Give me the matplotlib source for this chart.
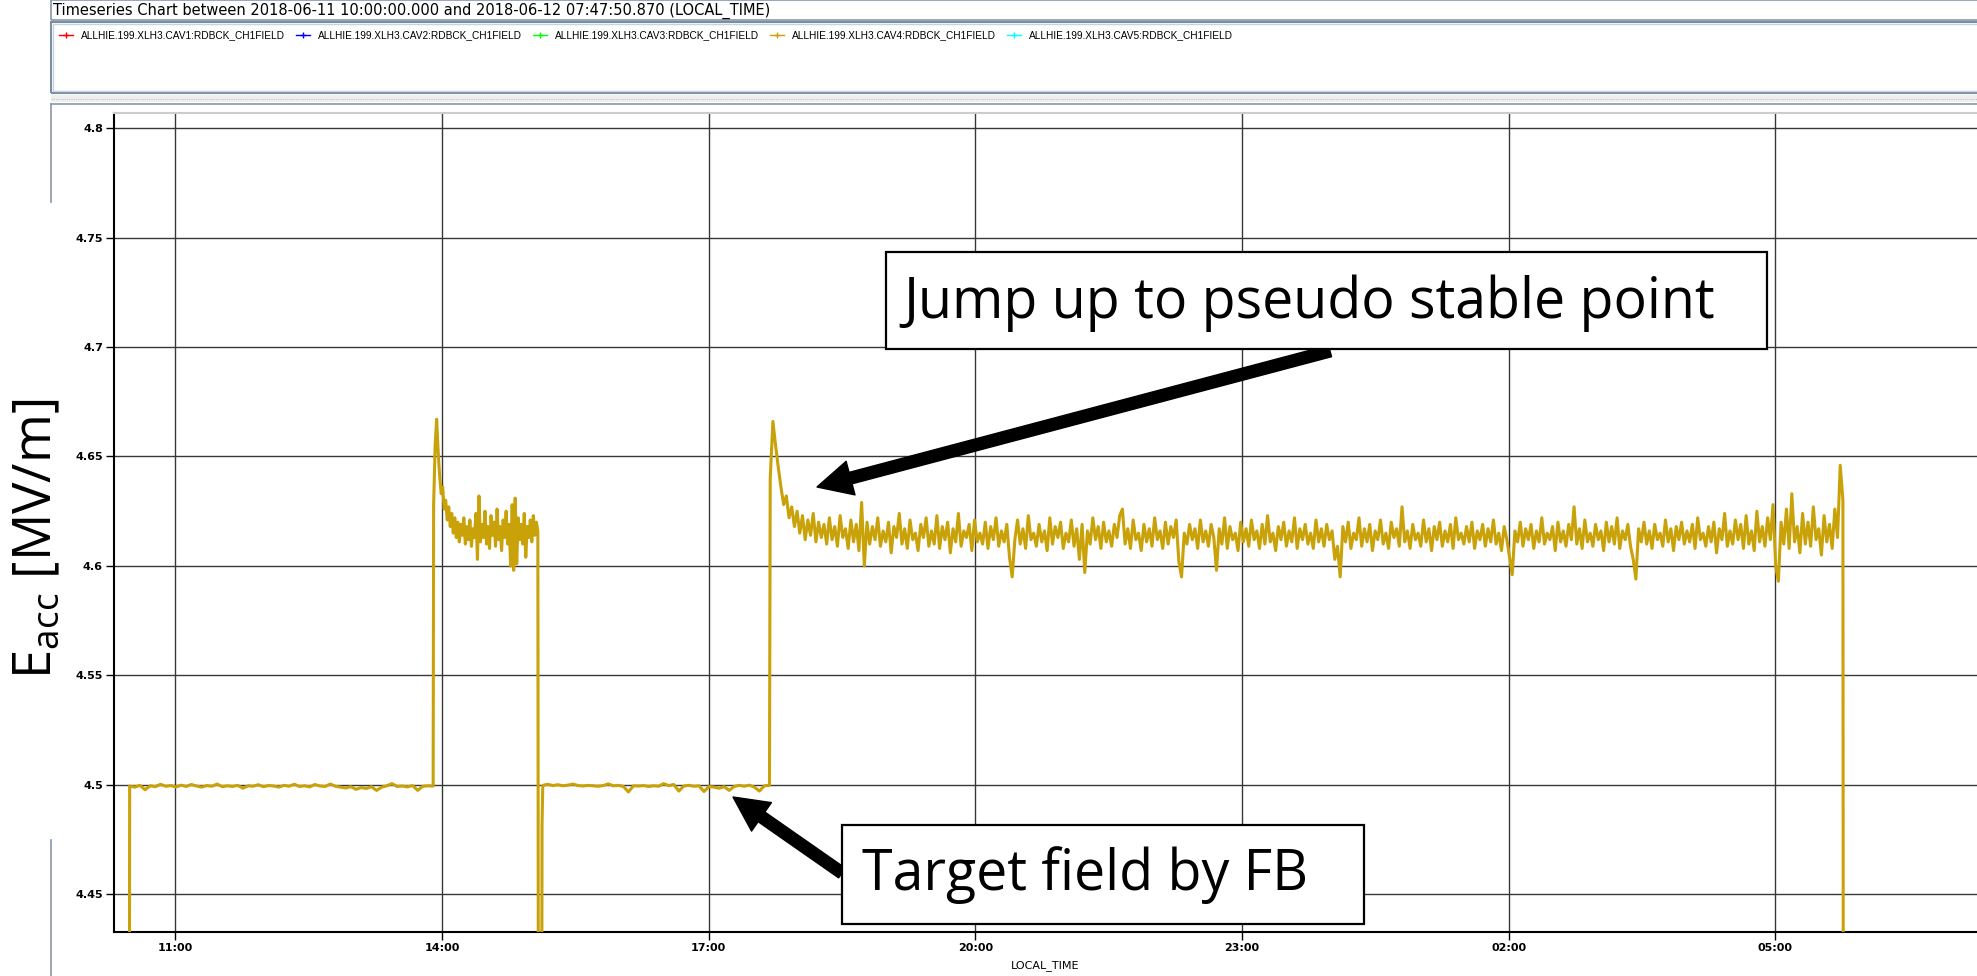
import matplotlib.pyplot as plt
from matplotlib.lines import Line2D
from matplotlib.patches import Rectangle
import pandas as pd

W, H = 1977, 976  # taille de l'image en pixels
GOLD = "#c9a108"

title = "Timeseries Chart between 2018-06-11 10:00:00.000 and 2018-06-12 07:47:50.870 (LOCAL_TIME)"
legend_labels = [
    "ALLHIE.199.XLH3.CAV1:RDBCK_CH1FIELD",
    "ALLHIE.199.XLH3.CAV2:RDBCK_CH1FIELD",
    "ALLHIE.199.XLH3.CAV3:RDBCK_CH1FIELD",
    "ALLHIE.199.XLH3.CAV4:RDBCK_CH1FIELD",
    "ALLHIE.199.XLH3.CAV5:RDBCK_CH1FIELD",
]
legend_colors = ["#ff0000", "#0000ff", "#00ff00", GOLD, "#00ffff"]

x_ticks = ["2018-06-11 11:00", "2018-06-11 14:00", "2018-06-11 17:00", "2018-06-11 20:00",
           "2018-06-11 23:00", "2018-06-12 02:00", "2018-06-12 05:00"]
x_tick_labels = ["11:00", "14:00", "17:00", "20:00", "23:00", "02:00", "05:00"]
y_ticks = [4.45, 4.5, 4.55, 4.6, 4.65, 4.7, 4.75, 4.8]
y_tick_labels = ["4.45", "4.5", "4.55", "4.6", "4.65", "4.7", "4.75", "4.8"]
x_range = ("2018-06-11 10:18:36", "2018-06-12 07:16:00")
y_range = (4.4327, 4.807)

# CAV4, palier 1 a 4.5 MV/m (feedback)
flat1_span = ("2018-06-11 10:29:10", "2018-06-11 13:54:00")
flat1_vals = [
    4.4995, 4.4990, 4.4998, 4.4978, 4.4996, 4.4992, 4.5003, 4.4994, 4.4997, 4.4991,
    4.4999, 4.4993, 4.5002, 4.4995, 4.4990, 4.4997, 4.4994, 4.5004, 4.4992, 4.4996,
    4.4993, 4.4998, 4.4985, 4.4996, 4.4994, 4.5001, 4.4992, 4.4997, 4.4995, 4.4990,
    4.4998, 4.4994, 4.5003, 4.4993, 4.4996, 4.4991, 4.5002, 4.4995, 4.4993, 4.5004,
    4.4994, 4.4990, 4.4986, 4.4992, 4.4980, 4.4988, 4.4984, 4.4992, 4.4975, 4.4990,
    4.4996, 4.5006, 4.4993, 4.4995, 4.4991, 4.4997, 4.4975, 4.4994, 4.4996, 4.4995,
]

# saut 1
high1_span = ("2018-06-11 13:54:20", "2018-06-11 15:04:40")
high1_vals = [
    4.628, 4.655, 4.667, 4.652, 4.641, 4.633, 4.636, 4.626, 4.630, 4.621,
    4.627, 4.618, 4.624, 4.615, 4.622, 4.613, 4.620, 4.611, 4.619, 4.614,
    4.622, 4.610, 4.618, 4.612, 4.621, 4.609, 4.617, 4.613, 4.624, 4.603,
    4.632, 4.611, 4.619, 4.613, 4.625, 4.610, 4.618, 4.608, 4.623, 4.614,
    4.620, 4.609, 4.626, 4.612, 4.618, 4.607, 4.621, 4.613, 4.625, 4.610,
    4.619, 4.600, 4.628, 4.598, 4.631, 4.601, 4.622, 4.612, 4.619, 4.610,
    4.624, 4.604, 4.618, 4.613, 4.621, 4.611, 4.623, 4.614, 4.620, 4.616,
]

# palier 2 a 4.5 MV/m
flat2_span = ("2018-06-11 15:08:00", "2018-06-11 17:41:00")
flat2_vals = [
    4.4998, 4.5003, 4.4997, 4.5001, 4.4996, 4.4999, 4.5004, 4.4997, 4.4995, 4.4998,
    4.4996, 4.4994, 4.4997, 4.5005, 4.4996, 4.4998, 4.4993, 4.4968, 4.4996, 4.4995,
    4.4997, 4.4993, 4.4996, 4.4994, 4.5006, 4.4997, 4.5002, 4.4972, 4.4995, 4.4998,
    4.4994, 4.4996, 4.4970, 4.4993, 4.4990, 4.4985, 4.4992, 4.4975, 4.4993, 4.4998,
    4.4994, 4.4999, 4.4990, 4.4972, 4.4996, 4.4998,
]

# saut 2 -> point pseudo stable
high2_span = ("2018-06-11 17:41:30", "2018-06-12 05:45:30")
high2_vals = [
    4.640, 4.666, 4.655, 4.645, 4.636, 4.628, 4.632, 4.622, 4.627, 4.618, 4.625, 4.615, 4.623, 4.612, 4.621, 4.614, 4.624, 4.611, 4.620, 4.613,
    4.619, 4.610, 4.622, 4.612, 4.618, 4.609, 4.623, 4.613, 4.617, 4.608, 4.621, 4.611, 4.619, 4.607, 4.629, 4.600, 4.620, 4.610, 4.618, 4.612,
    4.622, 4.609, 4.616, 4.611, 4.620, 4.606, 4.618, 4.613, 4.624, 4.610, 4.617, 4.608, 4.621, 4.612, 4.615, 4.607, 4.619, 4.613, 4.622, 4.609,
    4.616, 4.610, 4.623, 4.608, 4.618, 4.612, 4.620, 4.606, 4.617, 4.611, 4.624, 4.609, 4.616, 4.613, 4.619, 4.607, 4.621, 4.611, 4.615, 4.610,
    4.620, 4.608, 4.618, 4.612, 4.622, 4.609, 4.616, 4.611, 4.619, 4.604, 4.595, 4.612, 4.621, 4.610, 4.617, 4.608, 4.623, 4.612, 4.615, 4.609,
    4.619, 4.611, 4.616, 4.607, 4.622, 4.610, 4.618, 4.613, 4.620, 4.608, 4.615, 4.611, 4.621, 4.609, 4.617, 4.603, 4.619, 4.597, 4.616, 4.610,
    4.622, 4.612, 4.618, 4.608, 4.620, 4.611, 4.616, 4.609, 4.619, 4.613, 4.623, 4.626, 4.610, 4.617, 4.608, 4.621, 4.612, 4.615, 4.607, 4.619,
    4.611, 4.617, 4.609, 4.622, 4.612, 4.616, 4.608, 4.620, 4.610, 4.618, 4.613, 4.621, 4.602, 4.595, 4.615, 4.610, 4.619, 4.612, 4.617, 4.608,
    4.621, 4.611, 4.616, 4.609, 4.619, 4.613, 4.598, 4.617, 4.610, 4.622, 4.608, 4.618, 4.612, 4.615, 4.607, 4.620, 4.611, 4.617, 4.609, 4.621,
    4.612, 4.616, 4.608, 4.619, 4.610, 4.623, 4.611, 4.615, 4.607, 4.618, 4.612, 4.620, 4.609, 4.616, 4.611, 4.622, 4.608, 4.617, 4.612, 4.619,
    4.610, 4.615, 4.608, 4.621, 4.611, 4.617, 4.609, 4.619, 4.612, 4.616, 4.603, 4.609, 4.595, 4.618, 4.611, 4.620, 4.608, 4.615, 4.612, 4.622,
    4.609, 4.617, 4.611, 4.619, 4.607, 4.616, 4.612, 4.621, 4.610, 4.615, 4.608, 4.620, 4.613, 4.617, 4.609, 4.627, 4.611, 4.616, 4.608, 4.619,
    4.612, 4.615, 4.609, 4.621, 4.611, 4.617, 4.607, 4.618, 4.612, 4.620, 4.609, 4.616, 4.611, 4.619, 4.608, 4.622, 4.612, 4.615, 4.610, 4.618,
    4.611, 4.620, 4.608, 4.616, 4.612, 4.619, 4.609, 4.617, 4.611, 4.621, 4.610, 4.615, 4.607, 4.618, 4.612, 4.604, 4.596, 4.616, 4.611, 4.620,
    4.609, 4.617, 4.612, 4.619, 4.608, 4.616, 4.611, 4.622, 4.610, 4.615, 4.612, 4.618, 4.607, 4.620, 4.611, 4.616, 4.609, 4.619, 4.612, 4.627,
    4.610, 4.617, 4.608, 4.621, 4.611, 4.615, 4.609, 4.619, 4.612, 4.616, 4.607, 4.620, 4.611, 4.618, 4.610, 4.622, 4.608, 4.616, 4.612, 4.619,
    4.609, 4.603, 4.594, 4.617, 4.611, 4.620, 4.610, 4.616, 4.608, 4.619, 4.612, 4.615, 4.609, 4.621, 4.611, 4.617, 4.607, 4.618, 4.612, 4.620,
    4.610, 4.616, 4.611, 4.619, 4.608, 4.622, 4.612, 4.615, 4.609, 4.618, 4.611, 4.620, 4.606, 4.617, 4.612, 4.624, 4.609, 4.616, 4.610, 4.621,
    4.612, 4.619, 4.608, 4.623, 4.610, 4.616, 4.607, 4.625, 4.611, 4.618, 4.609, 4.622, 4.612, 4.628, 4.600, 4.593, 4.620, 4.610, 4.626, 4.608,
    4.633, 4.611, 4.618, 4.606, 4.624, 4.610, 4.620, 4.609, 4.627, 4.612, 4.617, 4.605, 4.623, 4.611, 4.619, 4.608, 4.626, 4.613, 4.646, 4.630,
]

# lectures isolees (cavite coupee, hors echelle)
trip_times = ["2018-06-11 10:29:00", "2018-06-11 15:05:00", "2018-06-11 15:07:20",
              "2018-06-11 15:07:30", "2018-06-12 05:45:45"]
trip_vals = [4.40, 4.40, 4.40, 4.482, 4.40]

parts = []
for span, vals in [(flat1_span, flat1_vals), (high1_span, high1_vals),
                   (flat2_span, flat2_vals), (high2_span, high2_vals)]:
    parts.append(pd.Series(vals, index=pd.date_range(span[0], span[1], periods=len(vals))))
parts.append(pd.Series(trip_vals, index=pd.to_datetime(trip_times)))
cav4 = pd.concat(parts).sort_index()


# pixel (depuis le haut a gauche) -> fraction de la figure
def fx(x):
    return x / W


def fy(y):
    return 1 - y / H


fig = plt.figure(figsize=(W / 100, H / 100), dpi=100)
ax = fig.add_axes([fx(114), fy(932.3), 1 - fx(114), (932.3 - 112.7) / H])

ax.plot(cav4.index, cav4.values, color=GOLD, lw=2.2, zorder=3)

ax.set_xlim(pd.Timestamp(x_range[0]), pd.Timestamp(x_range[1]))
ax.set_ylim(*y_range)
ax.set_xticks(pd.to_datetime(x_ticks))
ax.set_xticklabels(x_tick_labels, fontweight="bold", fontsize=8)
ax.set_yticks(y_ticks)
ax.set_yticklabels(y_tick_labels, fontweight="bold", fontsize=8)
ax.tick_params(direction="out", length=6, width=1, pad=2)
ax.grid(True, color="#383838", lw=1.0)
ax.set_axisbelow(True)
for s in ["left", "bottom"]:
    ax.spines[s].set_linewidth(1.5)
ax.spines["top"].set_color("#cccccc")
ax.spines["top"].set_linewidth(1.5)
ax.spines["right"].set_visible(False)
ax.set_xlabel("LOCAL_TIME", fontsize=8, labelpad=5)

# label y (texte colle par dessus)
fig.text(fx(38), fy(539), r"$\mathregular{E_{acc}}$ [MV/m]", rotation=90,
         ha="center", va="center", fontsize=38, family="Open Sans")

# cadres de l'interface
def boite(x0, y0, x1, y1, **kw):
    r = Rectangle((fx(x0), fy(y1)), fx(x1) - fx(x0), fy(y0) - fy(y1),
                  transform=fig.transFigure, **kw)
    fig.add_artist(r)


def trait(x0, y0, x1, y1, **kw):
    fig.add_artist(Line2D([fx(x0), fx(x1)], [fy(y0), fy(y1)], transform=fig.transFigure, **kw))


boite(51, 0, W + 5, 20, fill=False, ec="#8797a8", lw=1.2)
boite(51, 22, W + 5, 93, fill=False, ec="#7d8ea0", lw=1.5)
boite(53, 24, W + 5, 91, fill=False, ec="#c4d4e4", lw=1.0)
boite(51, 95, W + 5, 102, fc="#efefef", ec="none")
trait(51, 98.5, W, 98.5, color="#c4c4c4", lw=0.8, ls=(0, (1, 1)))
trait(51, 104, W, 104, color="#8797a8", lw=1.2)
trait(51, 104, 51, 202, color="#8797a8", lw=1.2)
trait(51, 840, 51, H, color="#8797a8", lw=1.2)

fig.text(fx(53), fy(11), title, fontsize=10.5, va="center", ha="left")

# legende
for i, (lab, col) in enumerate(zip(legend_labels, legend_colors)):
    xm = 66 + i * 237
    trait(xm - 7, 35, xm + 7, 35, color=col, lw=1)
    fig.add_artist(Line2D([fx(xm)], [fy(35)], transform=fig.transFigure,
                          color=col, marker="+", ms=5, mew=1))
    fig.text(fx(xm + 15), fy(35), lab, fontsize=7.3, family="Liberation Sans",
             va="center", ha="left")

# annotations
boite(886, 252, 1767, 349, fc="white", ec="black", lw=1.6, zorder=5)
fig.text(fx(903), fy(303), "Jump up to pseudo stable point", fontsize=40,
         family="Open Sans", va="center", ha="left", zorder=6)
boite(842, 825, 1364, 924, fc="white", ec="black", lw=1.6, zorder=5)
fig.text(fx(862), fy(875), "Target field by FB", fontsize=40,
         family="Open Sans", va="center", ha="left", zorder=6)


def fleche(x0, y0, x1, y1):
    ax.annotate("", xy=(x1, H - y1), xycoords="figure pixels",
                xytext=(x0, H - y0), textcoords="figure pixels",
                arrowprops=dict(arrowstyle="simple,head_length=25,head_width=25,tail_width=8.5",
                                color="black", shrinkA=0, shrinkB=0, mutation_scale=1),
                annotation_clip=False, zorder=6)


fleche(1330, 351, 817, 487)
fleche(842, 873, 733, 797)

fig.savefig("out.png", dpi=100)
